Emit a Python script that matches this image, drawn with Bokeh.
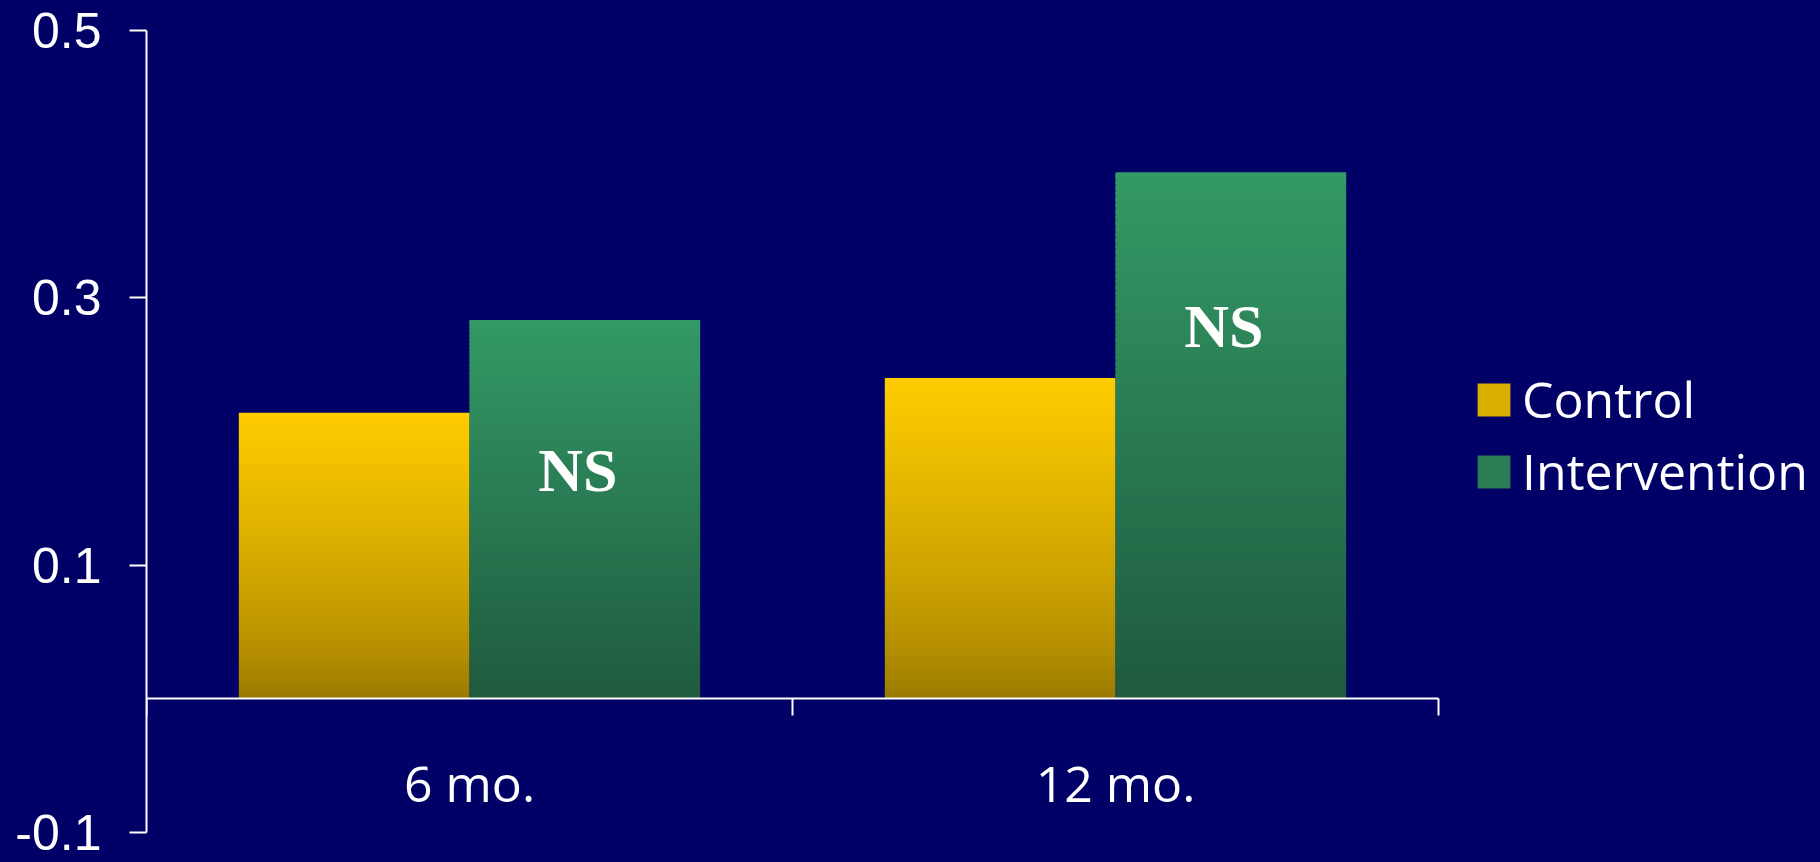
import numpy as np
from bokeh.plotting import figure
from bokeh.models import (Range1d, LinearAxis, FixedTicker, Legend, LegendItem,
                          ColumnDataSource)
from bokeh.core.properties import value
from bokeh.embed import file_html
from bokeh.resources import INLINE

# ---------------- data ----------------
categories = ["6 mo.", "12 mo."]
series = ["Control", "Intervention"]
control = [0.214, 0.240]
intervention = [0.2835, 0.394]
ns_labels = ["NS", "NS"]
ns_baseline = [0.154, 0.262]
y_ticks = [-0.1, 0.1, 0.3, 0.5]
y_tick_labels = ["-0.1", "0.1", "0.3", "0.5"]

# ---------------- style ----------------
BG = "#000066"
TOP = {"Control": (255, 204, 0), "Intervention": (51, 153, 102)}
BOT = {"Control": (150, 118, 0), "Intervention": (31, 90, 62)}
GAMMA = {"Control": 0.7, "Intervention": 1.0}
BAR_W = 0.357
NSLICE = 90
FONT = "Open Sans"
YFONT = "Liberation Sans"
W, H = 1820, 862
LEFT, TOPB, FRAME_H = 146, 30, 802
PX_PER_CAT = 646

values = {"Control": control, "Intervention": intervention}
offsets = {"Control": -BAR_W / 2, "Intervention": BAR_W / 2}

p = figure(width=W, height=H,
           x_range=Range1d(0, (W - LEFT) / PX_PER_CAT), y_range=Range1d(-0.1, 0.5),
           output_backend="svg", toolbar_location=None, x_axis_location=None,
           min_border_left=LEFT, min_border_right=0, min_border_top=TOPB,
           min_border_bottom=H - TOPB - FRAME_H, background_fill_color=BG,
           border_fill_color=BG, outline_line_color=None,
           styles={"background-color": BG})
p.grid.visible = False


def col(s, t):
    f = t ** GAMMA[s]
    a, b = BOT[s], TOP[s]
    return "#%02x%02x%02x" % tuple(int(round(a[j] + (b[j] - a[j]) * f)) for j in range(3))


renderers = {}
for s in series:
    xs, bots, tops, cols = [], [], [], []
    for i, c in enumerate(categories):
        v = values[s][i]
        for k in range(NSLICE):
            xs.append(i + 0.5 + offsets[s])
            bots.append(v * k / NSLICE)
            tops.append(min(v, v * (k + 1.6) / NSLICE))
            cols.append(col(s, (k + 0.5) / NSLICE))
    src = ColumnDataSource(dict(x=xs, bottom=bots, top=tops, color=cols))
    renderers[s] = p.vbar(x="x", width=BAR_W, bottom="bottom", top="top",
                          fill_color="color", line_color=None, source=src)

# NS annotations on intervention bars
p.text(x=[i + 0.5 + offsets["Intervention"] for i in range(len(categories))],
       y=ns_baseline, text=ns_labels, text_color="white",
       text_font=value("Liberation Serif"), text_font_style="bold",
       text_font_size="62px", text_align="center", text_baseline="alphabetic",
       x_offset=-7, y_offset=-23)

# y axis
ya = p.yaxis[0]
ya.ticker = FixedTicker(ticks=y_ticks)
ya.major_label_overrides = dict(zip(y_ticks, y_tick_labels))
ya.axis_line_color = "white"
ya.axis_line_width = 2
ya.major_tick_line_color = "white"
ya.major_tick_line_width = 2
ya.major_tick_out = 17
ya.major_tick_in = 0
ya.minor_tick_line_color = None
ya.major_label_text_color = "white"
ya.major_label_text_font = YFONT
ya.major_label_text_font_size = "50px"
ya.major_label_standoff = 28

# x axis at y = 0
xa = LinearAxis(fixed_location=0,
                ticker=FixedTicker(ticks=[i + 0.5 for i in range(len(categories))],
                                   minor_ticks=list(range(len(categories) + 1))),
                bounds=(0, len(categories)))
xa.major_label_overrides = {i + 0.5: c for i, c in enumerate(categories)}
xa.axis_line_color = "white"
xa.axis_line_width = 2
xa.major_tick_line_color = None
xa.major_tick_out = 0
xa.major_tick_in = 0
xa.minor_tick_line_color = "white"
xa.minor_tick_line_width = 2
xa.minor_tick_out = 17
xa.minor_tick_in = 0
xa.major_label_text_color = "white"
xa.major_label_text_font = FONT
xa.major_label_text_font_size = "50px"
xa.major_label_standoff = 33
p.add_layout(xa, "below")

legend = Legend(items=[LegendItem(label=s, renderers=[renderers[s]], index=int(NSLICE * 0.55))
                       for s in series],
                location=(1327, 327), orientation="vertical",
                background_fill_alpha=0, border_line_color=None,
                label_text_color="white", label_text_font=FONT,
                label_text_font_size="50px", glyph_width=41, glyph_height=41,
                label_standoff=8, spacing=4, padding=0, margin=0)
p.add_layout(legend)

open("out.html", "w").write(file_html(p, INLINE))
